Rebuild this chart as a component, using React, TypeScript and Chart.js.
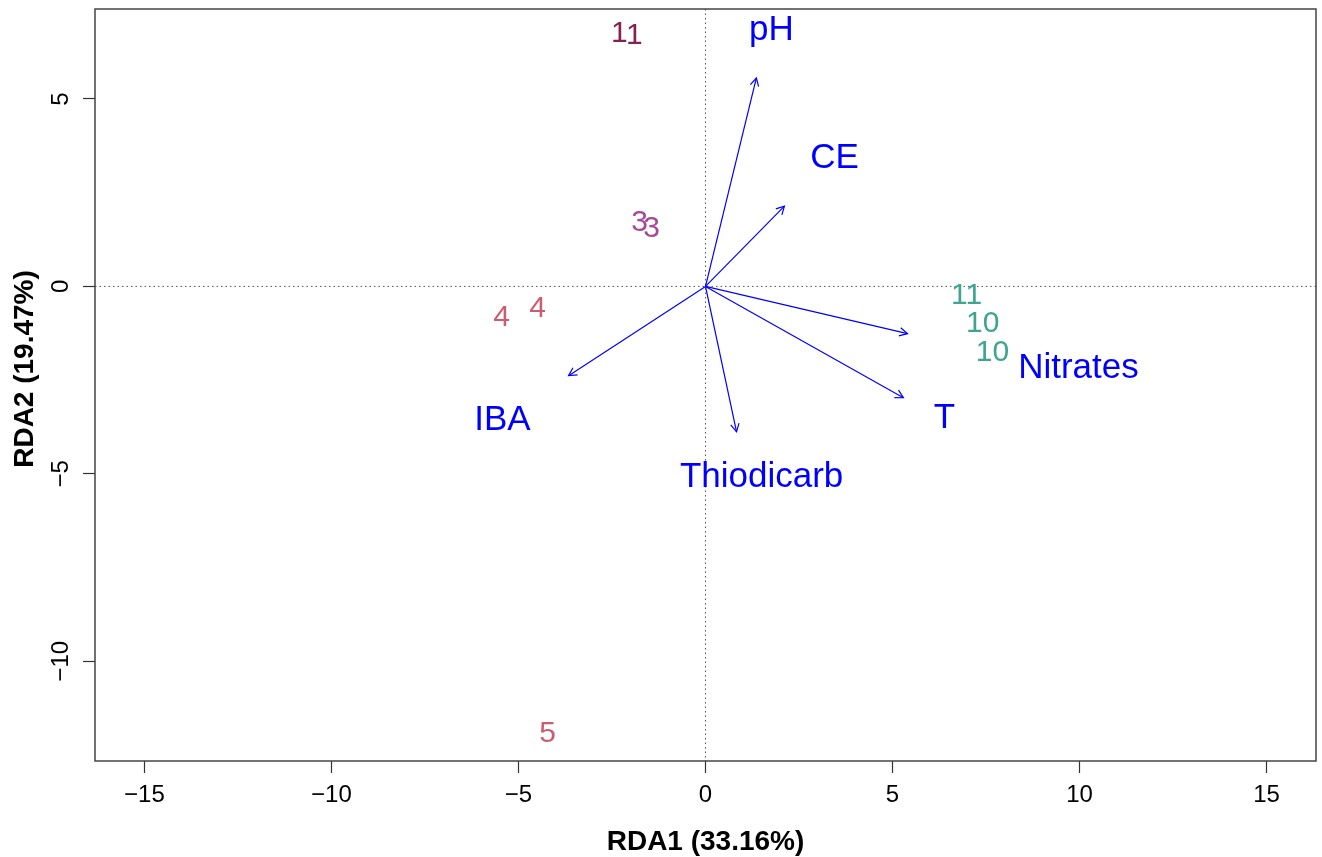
import React, { useEffect, useRef } from "react";
import { Chart, registerables } from "chart.js";

Chart.register(...registerables);

// ---- Data ----
const siteLabels = ["1", "1", "3", "3", "4", "4", "5", "11", "10", "10"];
const siteX = [-2.3, -1.9, -1.76, -1.44, -5.45, -4.49, -4.22, 6.98, 7.41, 7.67];
const siteY = [6.74, 6.68, 1.71, 1.55, -0.83, -0.59, -11.93, -0.24, -0.99, -1.76];
const siteColors = [
  "#862050", "#862050",
  "#a44a98", "#a44a98",
  "#cc5c70", "#cc5c70", "#cc5c70",
  "#3fa58f", "#3fa58f", "#3fa58f",
];

const varNames = ["pH", "CE", "Nitrates", "T", "IBA", "Thiodicarb"];
const arrowX = [1.36, 2.11, 5.4, 5.29, -3.66, 0.83];
const arrowY = [5.56, 2.14, -1.26, -2.97, -2.38, -3.88];
const varLabelX = [1.76, 3.45, 9.97, 6.39, -5.43, 1.5];
const varLabelY = [6.84, 3.42, -2.19, -3.53, -3.58, -5.08];

const xTicks = [-15, -10, -5, 0, 5, 10, 15];
const yTicks = [-10, -5, 0, 5];
const xTitle = "RDA1 (33.16%)";
const yTitle = "RDA2 (19.47%)";

const FONT = "'Liberation Sans', Arial, Helvetica, sans-serif";
const BLUE = "#0000ff";

const fmt = (v: number) => (v < 0 ? "\u2212" + Math.abs(v) : String(v));

const biplotPlugin = {
  id: "biplot",
  beforeDatasetsDraw(chart: any) {
    const { ctx, chartArea: a, scales } = chart;
    const x0 = scales.x.getPixelForValue(0);
    const y0 = scales.y.getPixelForValue(0);
    ctx.save();
    ctx.strokeStyle = "#555";
    ctx.lineWidth = 1;
    ctx.setLineDash([1.5, 3]);
    ctx.beginPath();
    ctx.moveTo(x0, a.top);
    ctx.lineTo(x0, a.bottom);
    ctx.moveTo(a.left, y0);
    ctx.lineTo(a.right, y0);
    ctx.stroke();
    ctx.restore();
  },
  afterDatasetsDraw(chart: any) {
    const { ctx, chartArea: a } = chart;
    ctx.save();
    chart.data.datasets.forEach((ds: any, i: number) => {
      const meta = chart.getDatasetMeta(i);
      if (ds.kind === "arrow") {
        const p0 = meta.data[0];
        const p1 = meta.data[1];
        const ang = Math.atan2(p1.y - p0.y, p1.x - p0.x);
        const len = 9;
        const spread = (28 * Math.PI) / 180;
        ctx.strokeStyle = BLUE;
        ctx.lineWidth = 1.2;
        ctx.beginPath();
        ctx.moveTo(p1.x - len * Math.cos(ang - spread), p1.y - len * Math.sin(ang - spread));
        ctx.lineTo(p1.x, p1.y);
        ctx.lineTo(p1.x - len * Math.cos(ang + spread), p1.y - len * Math.sin(ang + spread));
        ctx.stroke();
      } else if (ds.kind === "text") {
        ctx.font = ds.textFont;
        ctx.textAlign = "center";
        ctx.textBaseline = "middle";
        meta.data.forEach((pt: any, j: number) => {
          const c = ds.textColors ? ds.textColors[j] : ds.textColor;
          ctx.fillStyle = c;
          ctx.fillText(ds.labels[j], pt.x, pt.y);
        });
      }
    });
    // box
    ctx.strokeStyle = "#444";
    ctx.lineWidth = 1.5;
    ctx.setLineDash([]);
    ctx.strokeRect(a.left, a.top, a.right - a.left, a.bottom - a.top);
    // axis titles
    ctx.fillStyle = "#000";
    ctx.font = `bold 28px ${FONT}`;
    ctx.textAlign = "center";
    ctx.textBaseline = "middle";
    ctx.fillText(xTitle, (a.left + a.right) / 2, 842);
    ctx.translate(25, 369);
    ctx.rotate(-Math.PI / 2);
    ctx.fillText(yTitle, 0, 0);
    ctx.restore();
  },
};

export default function App() {
  const ref = useRef<HTMLCanvasElement | null>(null);
  useEffect(() => {
    if (!ref.current) return;
    const arrowSets = varNames.map((n, i) => ({
      kind: "arrow",
      label: n,
      data: [
        { x: 0, y: 0 },
        { x: arrowX[i], y: arrowY[i] },
      ],
      showLine: true,
      borderColor: BLUE,
      borderWidth: 1.2,
      pointRadius: 0,
      pointHoverRadius: 0,
    }));
    const chart = new Chart(ref.current, {
      type: "scatter",
      data: {
        datasets: [
          ...arrowSets,
          {
            kind: "text",
            label: "variables",
            labels: varNames,
            textColor: BLUE,
            textFont: `35px ${FONT}`,
            data: varLabelX.map((x, i) => ({ x, y: varLabelY[i] })),
            pointRadius: 0,
            pointHoverRadius: 0,
          },
          {
            kind: "text",
            label: "sites",
            labels: siteLabels,
            textColors: siteColors,
            textFont: `30px ${FONT}`,
            data: siteX.map((x, i) => ({ x, y: siteY[i] })),
            pointRadius: 0,
            pointHoverRadius: 0,
          },
        ] as any,
      },
      options: {
        animation: false,
        responsive: false,
        maintainAspectRatio: false,
        layout: { padding: { top: 9, right: 6, left: 0, bottom: 0 } },
        plugins: { legend: { display: false }, tooltip: { enabled: false } },
        events: [],
        scales: {
          x: {
            type: "linear",
            min: -16.32,
            max: 16.32,
            afterBuildTicks: (s: any) => {
              s.ticks = xTicks.map((v) => ({ value: v }));
            },
            afterFit: (s: any) => {
              s.height = 96;
              s.paddingLeft = 0;
              s.paddingRight = 0;
            },
            grid: {
              display: true,
              drawOnChartArea: false,
              drawTicks: true,
              tickLength: 12,
              tickColor: "#333",
              tickWidth: 1.2,
            },
            border: { display: false },
            ticks: {
              autoSkip: false,
              maxRotation: 0,
              padding: 8,
              color: "#000",
              font: { family: FONT, size: 24, lineHeight: 1.2 },
              callback: (v: any) => fmt(Number(v)),
            },
          },
          y: {
            type: "linear",
            min: -12.66,
            max: 7.4,
            afterBuildTicks: (s: any) => {
              s.ticks = yTicks.map((v) => ({ value: v }));
            },
            afterFit: (s: any) => {
              s.width = 95;
              s.paddingTop = 0;
              s.paddingBottom = 0;
            },
            grid: {
              display: true,
              drawOnChartArea: false,
              drawTicks: true,
              tickLength: 12,
              tickColor: "#333",
              tickWidth: 1.2,
            },
            border: { display: false },
            ticks: {
              autoSkip: false,
              minRotation: 90,
              maxRotation: 90,
              crossAlign: "center",
              padding: 1,
              color: "#000",
              font: { family: FONT, size: 24, lineHeight: 1.2 },
              callback: (v: any) => fmt(Number(v)),
            },
          },
        },
      } as any,
      plugins: [biplotPlugin],
    });
    return () => chart.destroy();
  }, []);
  return (
    <div style={{ position: "fixed", left: 0, top: 0, width: 1322, height: 857, background: "#fff" }}>
      <canvas ref={ref} width={1322} height={857} />
    </div>
  );
}
